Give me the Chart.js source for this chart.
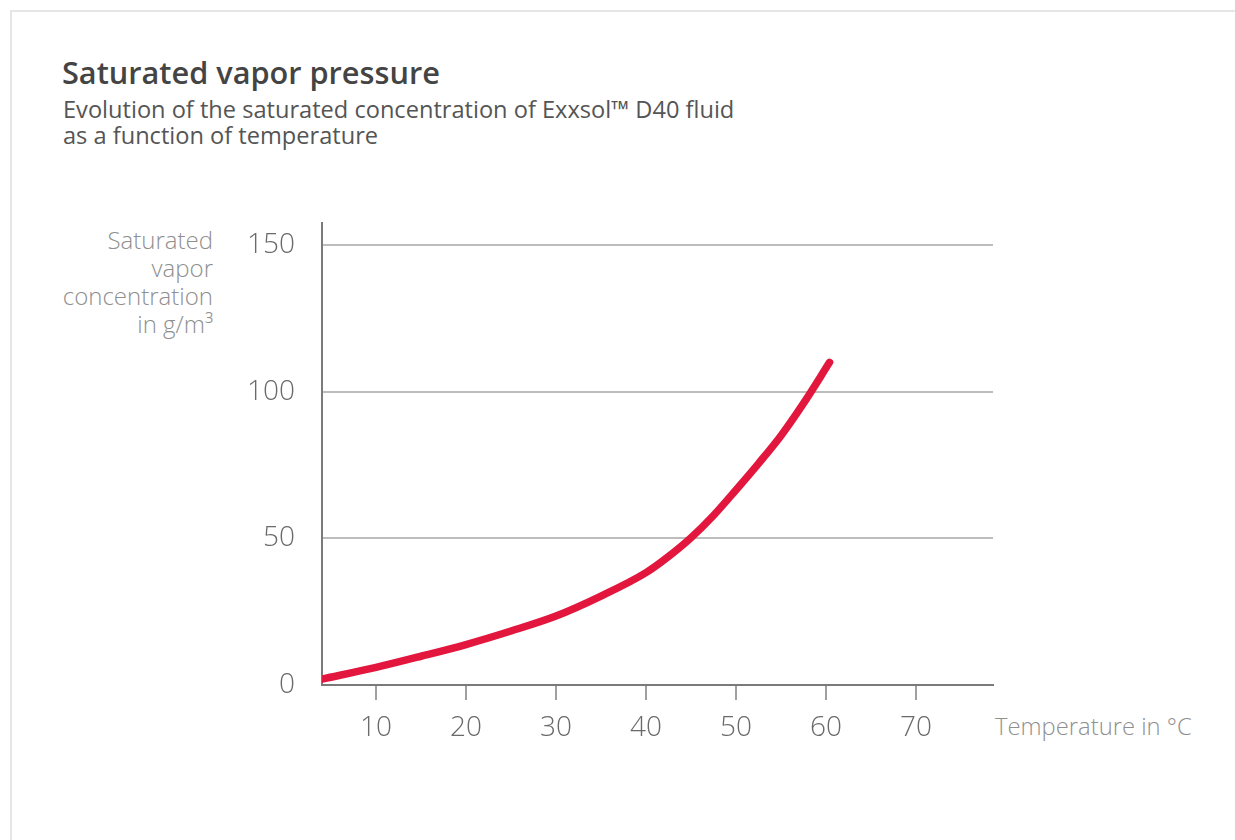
<!DOCTYPE html>
<html>
<head>
<meta charset="utf-8">
<script src="https://cdn.jsdelivr.net/npm/chart.js@4.4.1/dist/chart.umd.min.js"></script>
<style>
    body { margin: 0; background: #fff; font-family: "Open Sans", sans-serif; }
    #frame { position: absolute; left: 10px; top: 10px; width: 1240px; height: 840px;
             border-top: 2px solid #e6e6e6; border-left: 2px solid #e6e6e6; }
    #title { position: absolute; left: 62px; top: 51px; font-size: 30.7px; font-weight: 600; color: #444; }
    #subtitle { position: absolute; left: 63px; top: 96px; font-size: 23.6px; line-height: 26px; color: #555; }
    #ytitle { position: absolute; right: 1022px; top: 226px; font-size: 24px; line-height: 28px;
              font-weight: 300; color: #8f8f8f; text-align: right; }
    #xtitle { position: absolute; left: 995px; top: 710px; font-size: 23.8px; font-weight: 300; color: #8f8f8f; }
    canvas { position: absolute; left: 0; top: 0; }
</style>
</head>
<body>
<div id="frame"></div>
<div id="title">Saturated vapor pressure</div>
<div id="subtitle">Evolution of the saturated concentration of Exxsol™ D40 fluid<br>as a function of temperature</div>
<div id="ytitle">Saturated<br>vapor<br>concentration<br>in g/m³</div>
<div id="xtitle">Temperature in °C</div>
<canvas id="chart" width="1235" height="840"></canvas>
<script>
// Values (temperature in °C, concentration in g/m³)
const temperatures = [4, 10, 15, 20, 25, 30, 35, 40, 42.5, 45, 47.5, 50, 52.5, 55, 57.5, 60.4];
const concentrations = [2, 6, 9.8, 13.8, 18.4, 23.5, 30.3, 38.3, 43.8, 50.2, 57.8, 66.5, 75.5, 85, 96, 110];

// Tick labels on each axis
const xTicks = [10, 20, 30, 40, 50, 60, 70];
const yTicks = [0, 50, 100, 150];

const points = temperatures.map(function(t, i) {
    return { x: t, y: concentrations[i] };
});

const ctx = document.getElementById('chart').getContext('2d');
const chart = new Chart(ctx, {
    type: 'line',
    data: {
        datasets: [{
            data: points,
            borderColor: '#e3173e',
            borderWidth: 7.5,
            borderCapStyle: 'round',
            borderJoinStyle: 'round',
            pointRadius: 0,
            cubicInterpolationMode: 'monotone',
            fill: false
        }]
    },
    options: {
        responsive: false,
        animation: false,
        layout: { padding: { top: 223, right: 242, left: 0, bottom: 0 } },
        plugins: {
            legend: { display: false },
            tooltip: { enabled: false }
        },
        scales: {
            x: {
                type: 'linear',
                min: 4,
                max: 78.56,
                afterBuildTicks: function(scale) {
                    scale.ticks = xTicks.map(function(v) { return { value: v }; });
                },
                afterFit: function(scale) { scale.height = 155; },
                grid: {
                    drawOnChartArea: false,
                    drawTicks: true,
                    tickLength: 15,
                    color: '#a0a0a0',
                    lineWidth: 2
                },
                border: { color: '#7a7a7a', width: 2 },
                ticks: {
                    padding: 11,
                    color: '#6a6a6a',
                    font: { family: 'Open Sans', size: 28, weight: '300' }
                }
            },
            y: {
                min: 0,
                max: 157.5,
                afterBuildTicks: function(scale) {
                    scale.ticks = yTicks.map(function(v) { return { value: v }; });
                },
                afterFit: function(scale) { scale.width = 322; },
                grid: {
                    drawTicks: false,
                    color: '#bdbdbd',
                    lineWidth: 2
                },
                border: { color: '#7a7a7a', width: 2 },
                ticks: {
                    padding: 27,
                    color: '#6a6a6a',
                    font: { family: 'Open Sans', size: 28, weight: '300' }
                }
            }
        }
    }
});
</script>
</body>
</html>
